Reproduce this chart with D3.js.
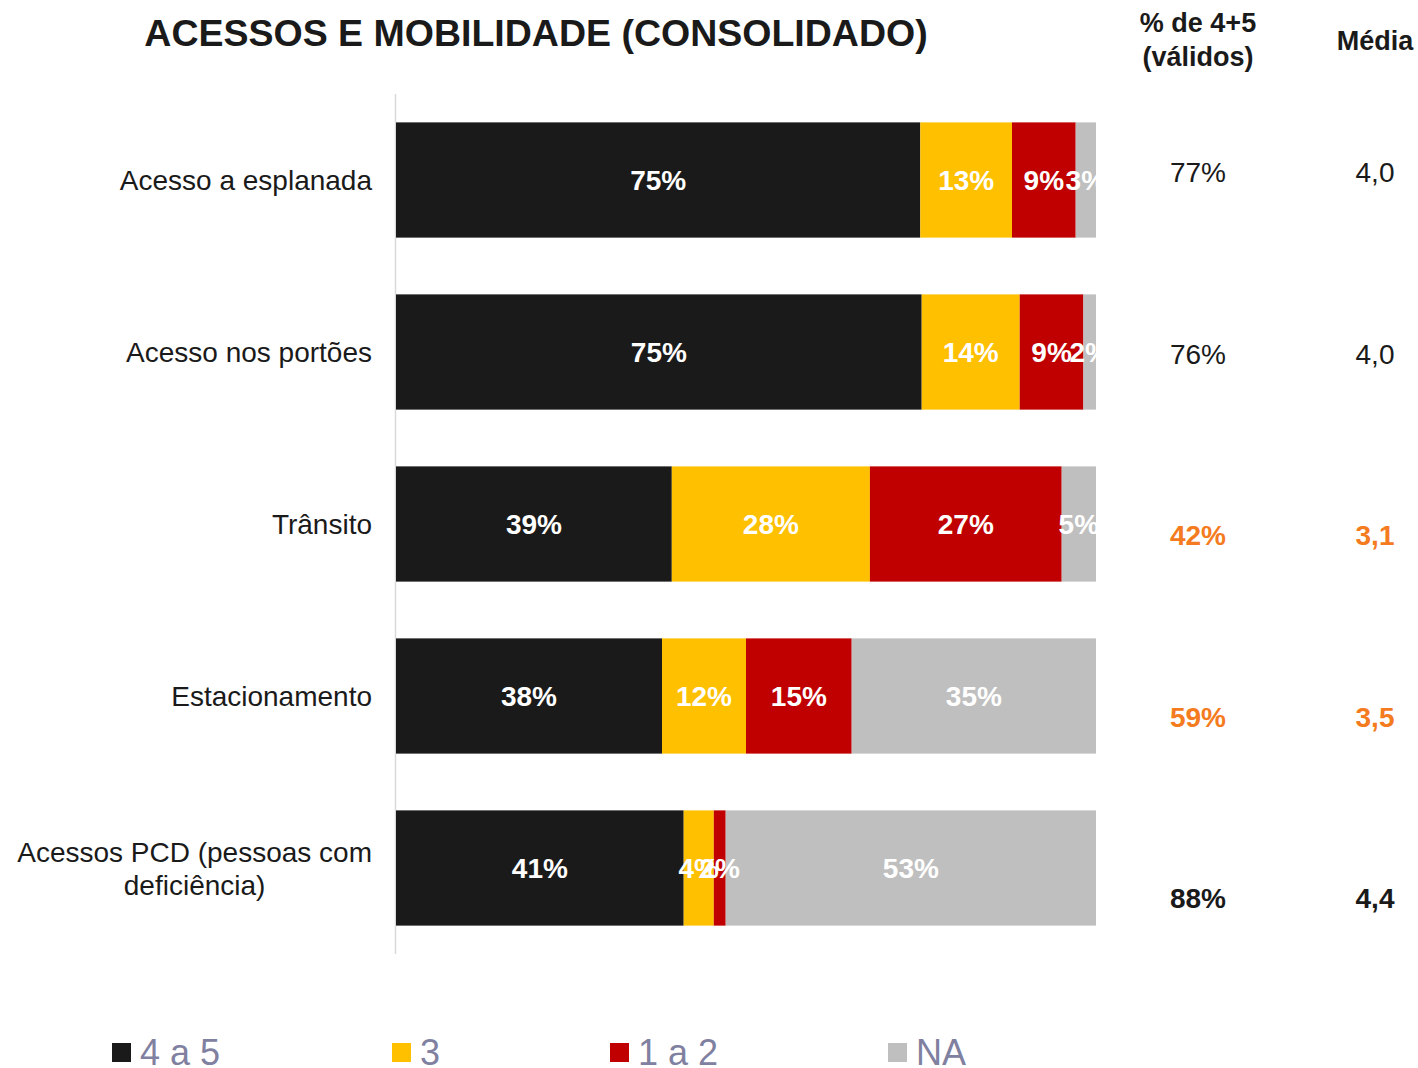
<!DOCTYPE html>
<html>
<head>
<meta charset="utf-8">
<script src="https://cdn.jsdelivr.net/npm/d3@7"></script>
<style>
  body { margin: 0; background: #fff; }
  svg { font-family: "Liberation Sans", Arial, sans-serif; }
</style>
</head>
<body>
<svg id="chart" width="1418" height="1068"></svg>
<script>
// Data
const categories = ["Acesso a esplanada", "Acesso nos portões", "Trânsito", "Estacionamento", "Acessos PCD (pessoas com|deficiência)"]
const series = ["4 a 5", "3", "1 a 2", "NA"]
const val45 = [74.9, 75.1, 39.4, 38.0, 41.1]
const val3 = [13.1, 14.0, 28.3, 12.0, 4.3]
const val12 = [9.1, 9.1, 27.4, 15.1, 1.7]
const valNA = [2.9, 1.8, 4.9, 34.9, 52.9]
const pctValidos = ["77%", "76%", "42%", "59%", "88%"]
const media = ["4,0", "4,0", "3,1", "3,5", "4,4"]

const colors = ["#1a1a1a", "#ffc000", "#c00000", "#bfbfbf"]
const orange = "#f47b20"

const svg = d3.select("#chart")

const rows = categories.map((c, i) => ({
    cat: c, vals: [val45[i], val3[i], val12[i], valNA[i]]
}))

const x = d3.scaleLinear().domain([0, 100]).range([396, 1096])
const y = d3.scaleBand().domain(categories).range([94, 954]).paddingInner(0.33).paddingOuter(0.165)
const yTable = d3.scalePoint().domain(categories).range([172, 898])

// title
svg.append("text")
    .attr("x", 536).attr("y", 46)
    .attr("text-anchor", "middle")
    .style("font-size", "37.5px").style("font-weight", "bold").attr("fill", "#1a1a1a")
    .text("ACESSOS E MOBILIDADE (CONSOLIDADO)")

// column headers
const hdr = svg.append("g").style("font-size", "27px").style("font-weight", "bold").attr("fill", "#1a1a1a")
hdr.append("text").attr("x", 1198).attr("y", 32).attr("text-anchor", "middle").text("% de 4+5")
hdr.append("text").attr("x", 1198).attr("y", 66).attr("text-anchor", "middle").text("(válidos)")
hdr.append("text").attr("x", 1375).attr("y", 50).attr("text-anchor", "middle").text("Média")

// axis line
svg.append("line")
    .attr("x1", 395.5).attr("x2", 395.5).attr("y1", 94).attr("y2", 954)
    .attr("stroke", "#d9d9d9").attr("stroke-width", 1.5)

// bars
const rowG = svg.selectAll("g.row").data(rows).enter().append("g").attr("class", "row")

rowG.each(function(d) {
    const g = d3.select(this)
    let acc = 0
    const segs = d.vals.map((v, j) => { const s = { x0: acc, x1: acc + v, v: v, j: j }; acc += v; return s })
    g.selectAll("rect").data(segs).enter().append("rect")
        .attr("x", s => x(s.x0))
        .attr("width", s => x(s.x1) - x(s.x0))
        .attr("y", y(d.cat))
        .attr("height", y.bandwidth())
        .attr("fill", s => colors[s.j])
    g.selectAll("text.val").data(segs).enter().append("text")
        .attr("class", "val")
        .attr("x", s => (x(s.x0) + x(s.x1)) / 2)
        .attr("y", y(d.cat) + y.bandwidth() / 2 + 10)
        .attr("text-anchor", "middle")
        .style("font-size", "28px").style("font-weight", "bold")
        .attr("fill", "#fff")
        .text(s => Math.round(s.v) + "%")
})

// labels spilling past the bar end get clipped
svg.append("defs").append("clipPath").attr("id", "clipBars")
    .append("rect").attr("x", 396).attr("y", 0).attr("width", 700).attr("height", 1068)
svg.selectAll("text.val").attr("clip-path", "url(#clipBars)")

// category labels
svg.selectAll("text.cat").data(categories).enter().append("text")
    .attr("class", "cat")
    .style("font-size", "28px").attr("fill", "#1a1a1a")
    .each(function(c) {
        const lines = c.split("|")
        const t = d3.select(this)
        const cy = y(c) + y.bandwidth() / 2
        const lh = 33
        lines.forEach((l, k) => {
            t.append("tspan").attr("x", 372).attr("text-anchor", "end")
                .attr("y", cy + 10 - (lines.length - 1) * lh / 2 + k * lh)
                .text(l)
        })
        if (lines.length > 1) {
            let maxW = 0
            t.selectAll("tspan").each(function() { maxW = Math.max(maxW, this.getComputedTextLength()) })
            t.selectAll("tspan").attr("text-anchor", "middle").attr("x", 372 - maxW / 2)
        }
    })

// table values
const rowStyle = i => i < 2 ? { w: "normal", c: "#1a1a1a" } : (i < 4 ? { w: "bold", c: orange } : { w: "bold", c: "#1a1a1a" })
svg.selectAll("text.pct").data(pctValidos).enter().append("text")
    .attr("class", "pct")
    .attr("x", 1198).attr("y", (d, i) => yTable(categories[i]) + 10)
    .attr("text-anchor", "middle")
    .style("font-size", "28px")
    .style("font-weight", (d, i) => rowStyle(i).w)
    .attr("fill", (d, i) => rowStyle(i).c)
    .text(d => d)
svg.selectAll("text.med").data(media).enter().append("text")
    .attr("class", "med")
    .attr("x", 1375).attr("y", (d, i) => yTable(categories[i]) + 10)
    .attr("text-anchor", "middle")
    .style("font-size", "28px")
    .style("font-weight", (d, i) => rowStyle(i).w)
    .attr("fill", (d, i) => rowStyle(i).c)
    .text(d => d)

// legend
const legX = d3.scaleOrdinal().domain(series).range([112, 392, 610, 888])
const leg = svg.selectAll("g.leg").data(series).enter().append("g")
    .attr("class", "leg")
    .attr("transform", d => `translate(${legX(d)},1043)`)
leg.append("rect").attr("width", 19).attr("height", 19).attr("fill", (d, i) => colors[i])
leg.append("text").attr("x", 28).attr("y", 22)
    .style("font-size", "36px").attr("fill", "#8080a0")
    .text(d => d)
</script>
</body>
</html>
